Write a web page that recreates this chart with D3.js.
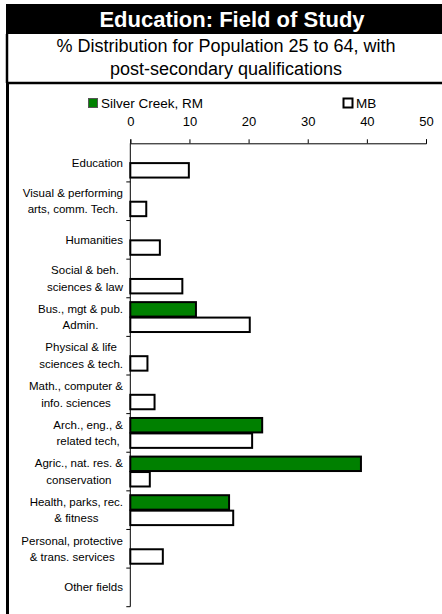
<!DOCTYPE html>
<html>
<head>
<meta charset="utf-8">
<script src="https://cdn.jsdelivr.net/npm/d3@7"></script>
<style>
  body { margin: 0; background: #fff; }
  svg { display: block; font-family: "Liberation Sans", Arial, sans-serif; }
</style>
</head>
<body>
<div id="chart"></div>
<script>
// categories (each entry is the wrapped label lines)
var categories = [
  ["Education"],
  ["Visual & performing", "arts, comm. Tech."],
  ["Humanities"],
  ["Social & beh.", "sciences & law"],
  ["Bus., mgt & pub.", "Admin."],
  ["Physical & life", "sciences & tech."],
  ["Math., computer &", "info. sciences"],
  ["Arch., eng., &", "related tech,"],
  ["Agric., nat. res. &", "conservation"],
  ["Health, parks, rec.", "& fitness"],
  ["Personal, protective", "& trans. services"],
  ["Other fields"]
];
var seriesNames = ["Silver Creek, RM", "MB"];
var silverCreek = [0, 0, 0, 0, 11.1, 0, 0, 22.3, 39.0, 16.7, 0, 0];
var mb = [9.9, 2.7, 5.0, 8.8, 20.2, 2.9, 4.1, 20.6, 3.3, 17.4, 5.5, 0];
var xTicks = [0, 10, 20, 30, 40, 50];

var colors = {"Silver Creek, RM": "#008000", "MB": "#ffffff"};

var fullWidth = 442, fullHeight = 614;
var plot = {left: 130.3, right: 426, top: 143.3, bottom: 606.7};

var svg = d3.select("#chart").append("svg")
    .attr("width", fullWidth)
    .attr("height", fullHeight);

// title bar
svg.append("rect")
    .attr("x", 6).attr("y", 4)
    .attr("width", fullWidth - 6).attr("height", 30)
    .attr("fill", "#000");
svg.append("text")
    .attr("x", 232).attr("y", 27)
    .attr("text-anchor", "middle")
    .attr("fill", "#fff")
    .style("font-size", "22px")
    .style("font-weight", "bold")
    .text("Education: Field of Study");

// subtitle
var subLines = ["% Distribution for Population 25 to 64, with", "post-secondary qualifications"];
svg.selectAll(".subtitle")
  .data(subLines)
  .enter().append("text")
    .attr("class", "subtitle")
    .attr("x", 226)
    .attr("y", function(d, i) { return 52 + i * 23; })
    .attr("text-anchor", "middle")
    .style("font-size", "18px")
    .text(function(d) { return d; });

// frame lines
svg.append("line")
    .attr("x1", 7).attr("x2", 7).attr("y1", 34).attr("y2", 83)
    .attr("stroke", "#000").attr("stroke-width", 2.5);
svg.append("line")
    .attr("x1", 6).attr("x2", fullWidth).attr("y1", 83).attr("y2", 83)
    .attr("stroke", "#000").attr("stroke-width", 2.5);
svg.append("line")
    .attr("x1", 7.5).attr("x2", 7.5).attr("y1", 83).attr("y2", fullHeight)
    .attr("stroke", "#000").attr("stroke-width", 3);

// scales
var xScale = d3.scaleLinear()
    .domain([0, 50])
    .range([plot.left, plot.right]);

var yScale = d3.scaleBand()
    .domain(d3.range(categories.length))
    .range([plot.top, plot.bottom])
    .paddingInner(0.2)
    .paddingOuter(0.1);

var ySub = d3.scaleBand()
    .domain(seriesNames)
    .range([0, yScale.bandwidth()]);

// top axis
var xAxis = svg.append("g")
    .attr("transform", "translate(0," + plot.top + ")")
    .call(d3.axisTop(xScale).tickValues(xTicks).tickSize(4).tickPadding(13));
xAxis.select(".domain").attr("stroke", "#000").attr("stroke-width", 1);
xAxis.selectAll(".tick line").attr("stroke", "#000");
xAxis.selectAll("text")
    .attr("fill", "#000")
    .style("font-size", "13px")
    .style("font-family", "'Liberation Sans', Arial, sans-serif");

// left axis with ticks at band boundaries
var step = yScale.step();
var boundaries = d3.range(1, categories.length + 1).map(function(i) { return plot.top + i * step; });
svg.append("line")
    .attr("x1", plot.left).attr("x2", plot.left)
    .attr("y1", plot.top).attr("y2", plot.bottom)
    .attr("stroke", "#000").attr("stroke-width", 1);
svg.selectAll(".ytick")
  .data(boundaries)
  .enter().append("line")
    .attr("class", "ytick")
    .attr("x1", plot.left - 4).attr("x2", plot.left)
    .attr("y1", function(d) { return d; })
    .attr("y2", function(d) { return d; })
    .attr("stroke", "#000");

// category labels: lines centred within a right-aligned block
var labelRight = 123;
svg.selectAll(".cat")
  .data(categories)
  .enter().append("g")
    .attr("class", "cat")
  .each(function(lines, i) {
    var mid = plot.top + i * step + step / 2;
    var lh = 16.5;
    var texts = d3.select(this).selectAll("text")
      .data(lines)
      .enter().append("text")
        .attr("y", function(d, j) { return mid + (j - (lines.length - 1) / 2) * lh + 4; })
        .attr("text-anchor", "middle")
        .style("font-size", "11.5px")
        .text(function(d) { return d; });
    var maxW = 0;
    texts.each(function() { maxW = Math.max(maxW, this.getComputedTextLength()); });
    texts.attr("x", labelRight - maxW / 2);
  });

// bars
var seriesData = [silverCreek, mb];
seriesNames.forEach(function(name, s) {
  svg.selectAll(".bar" + s)
    .data(seriesData[s].map(function(v, i) { return {v: v, i: i}; })
      .filter(function(d) { return d.v > 0; }))
    .enter().append("rect")
      .attr("class", "bar" + s)
      .attr("x", xScale(0))
      .attr("y", function(d) { return yScale(d.i) + ySub(name) + 0.5; })
      .attr("height", ySub.bandwidth() - 1)
      .attr("width", function(d) { return xScale(d.v) - xScale(0); })
      .attr("fill", colors[name])
      .attr("stroke", "#000")
      .attr("stroke-width", 2);
});

// legend
var legendItems = [
  {name: "Silver Creek, RM", x: 88},
  {name: "MB", x: 343}
];
var legend = svg.selectAll(".legend")
  .data(legendItems)
  .enter().append("g")
    .attr("class", "legend")
    .attr("transform", function(d) { return "translate(" + d.x + ",98)"; });
legend.append("rect")
    .attr("x", 0.5).attr("y", 0.5)
    .attr("width", 9).attr("height", 9)
    .attr("fill", function(d) { return colors[d.name]; })
    .attr("stroke", function(d) { return d.name === "MB" ? "#000" : "#555"; })
    .attr("stroke-width", function(d) { return d.name === "MB" ? 2 : 1; });
legend.append("text")
    .attr("x", 13).attr("y", 10)
    .style("font-size", "13.5px")
    .text(function(d) { return d.name; });
</script>
</body>
</html>
